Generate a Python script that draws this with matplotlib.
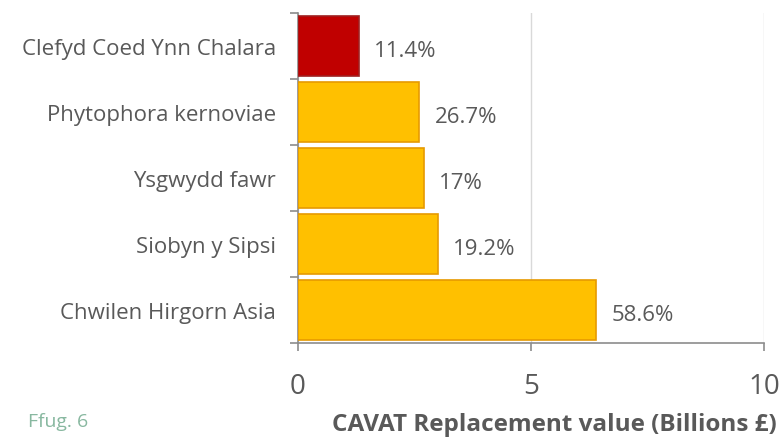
import numpy as np
import matplotlib
matplotlib.use('Agg')
import matplotlib.pyplot as plt

# data, bottom to top
categories = ['Chwilen Hirgorn Asia', 'Siobyn y Sipsi', 'Ysgwydd fawr',
              'Phytophora kernoviae', 'Clefyd Coed Ynn Chalara']
values = [6.4, 3.0, 2.7, 2.6, 1.3]
pct_labels = ['58.6%', '19.2%', '17%', '26.7%', '11.4%']
bar_colors = ['#FFC000', '#FFC000', '#FFC000', '#FFC000', '#C00000']
edge_colors = ['#E69A00', '#E69A00', '#E69A00', '#E69A00', '#A02020']

plt.rcParams['font.family'] = ['Open Sans', 'DejaVu Sans']
text_col = '#595959'

fig = plt.figure(figsize=(7.81, 4.39), dpi=100)
ax = fig.add_axes([0.3816, 0.216, 0.5966, 0.752])

y = np.arange(len(categories))
ax.barh(y, values, height=0.9, color=bar_colors, edgecolor=edge_colors, linewidth=1.2, zorder=3)

for yi, v, lab in zip(y, values, pct_labels):
    ax.text(v + 0.33, yi - 0.06, lab, va='center', ha='left', fontsize=16, color=text_col)

ax.set_xlim(0, 10)
ax.set_ylim(-0.5, len(categories) - 0.5)
ax.set_xticks([0, 5, 10])
ax.set_yticks(y)
ax.set_yticklabels(categories, fontsize=16, color=text_col)
ax.set_yticks(np.arange(-0.5, len(categories), 1), minor=True)
ax.tick_params(axis='y', which='major', length=0, pad=16)
ax.tick_params(axis='y', which='minor', length=6, color='#8c8c8c', width=1.2)
ax.tick_params(axis='x', length=6, color='#8c8c8c', width=1.2, labelsize=20,
               labelcolor=text_col, pad=15)

ax.grid(axis='x', color='#d9d9d9', linewidth=1, zorder=0)
for s in ['top', 'right']:
    ax.spines[s].set_visible(False)
for s in ['left', 'bottom']:
    ax.spines[s].set_color('#8c8c8c')
    ax.spines[s].set_linewidth(1.2)

ax.set_xlabel('CAVAT Replacement value (Billions £)', fontsize=17.5, fontweight='bold',
              color=text_col)
ax.xaxis.set_label_coords(0.551, -0.245)
ax.xaxis.label.set_va('center')
fig.text(0.036, 0.038, 'Ffug. 6', fontsize=14, color='#88b8a0', va='center')

fig.savefig('out.png', dpi=100)
